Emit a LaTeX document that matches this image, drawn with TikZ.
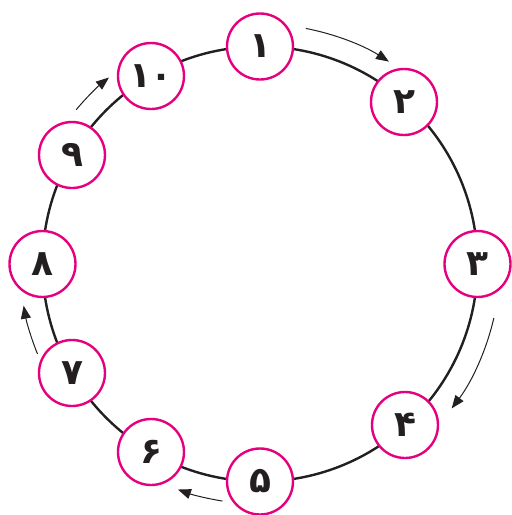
\documentclass[tikz,border=0pt]{standalone}
\usepackage{fontspec}
\newfontfamily\fafont[Script=Arabic]{DejaVu Sans}
\usetikzlibrary{arrows.meta}
\definecolor{mag}{HTML}{E5007E}
\definecolor{ink}{HTML}{231F20}
\begin{document}
\begin{tikzpicture}[x=1pt,y=-1pt,
  numnode/.style={circle,draw=mag,line width=2.4pt,fill=white,minimum size=66pt,inner sep=0pt,
    font=\fafont\bfseries\fontsize{36}{36}\selectfont,text=ink},
  flowarrow/.style={draw=ink,line width=1pt,-{Triangle[length=13pt,width=10pt]}}]
\useasboundingbox (0,0) rectangle (512,515);
\coordinate (c) at (260,264);
\draw[ink,line width=2.4pt] (c) circle[radius=217.5];
\node[numnode] (n1) at (260,46.5) {۱};
\node[numnode] (n2) at (404,102) {۲};
\node[numnode] (n3) at (477.5,264) {۳};
\node[numnode] (n4) at (405,425) {۴};
\node[numnode] (n5) at (260,481.5) {۵};
\node[numnode] (n6) at (151,452) {۶};
\node[numnode] (n7) at (72,373) {۷};
\node[numnode] (n8) at (42.5,264) {۸};
\node[numnode] (n9) at (72,155) {۹};
\node[numnode] (n10) at (151,76) {۱۰};
\path[flowarrow] (c) ++(-79:240) arc[start angle=-79,end angle=-57.5,radius=240];
\path[flowarrow] (c) ++(13:240) arc[start angle=13,end angle=37,radius=240];
\path[flowarrow] (c) ++(99:240) arc[start angle=99,end angle=110,radius=240];
\path[flowarrow] (c) ++(158:240) arc[start angle=158,end angle=170,radius=240];
\path[flowarrow] (c) ++(-140:240) arc[start angle=-140,end angle=-129,radius=240];
\end{tikzpicture}
\end{document}
